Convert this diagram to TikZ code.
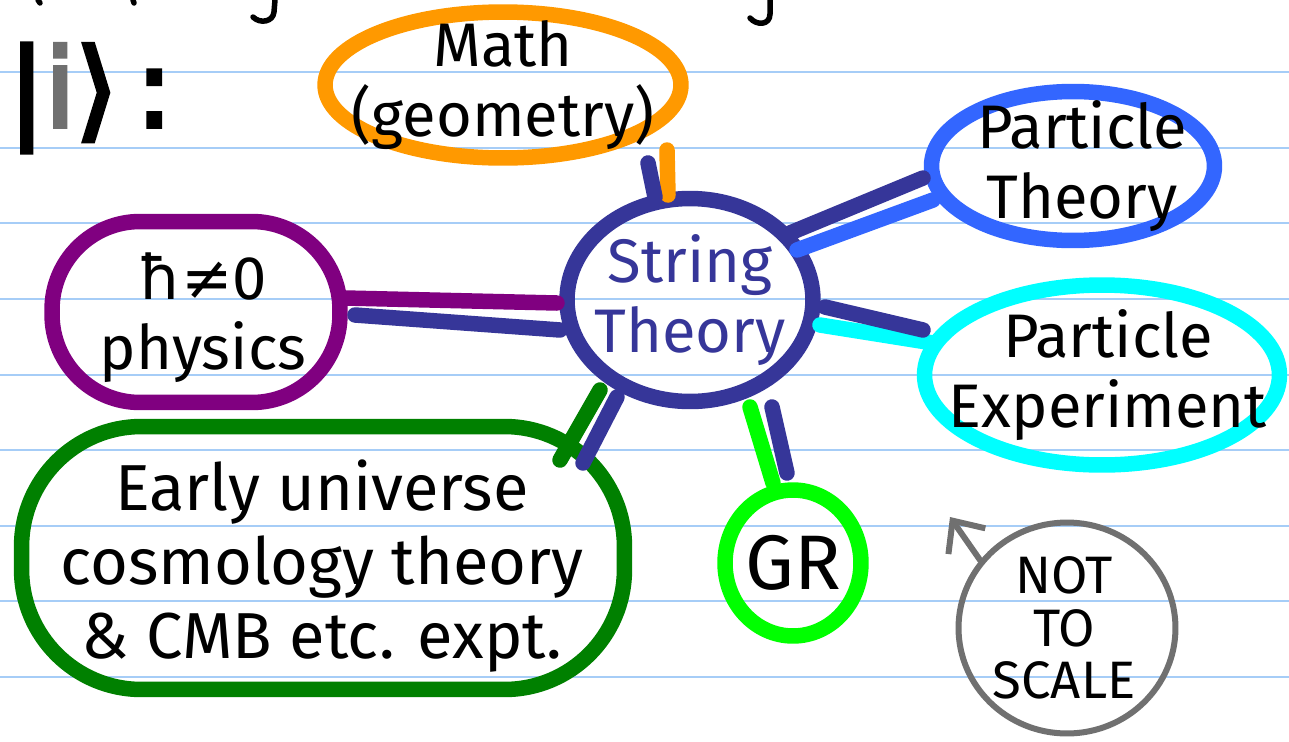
\documentclass[tikz,border=0pt]{standalone}
\usepackage{fontspec}
\setmainfont{Fira Sans}
\newfontfamily\symfont{DejaVu Sans}
\newfontfamily\ketfont[FakeBold=4]{DejaVu Sans}
\usetikzlibrary{shapes.geometric,arrows.meta}
\definecolor{myorange}{RGB}{255,153,0}
\definecolor{mynavy}{RGB}{54,54,153}
\definecolor{myblue}{RGB}{51,102,255}
\definecolor{mycyan}{RGB}{0,255,255}
\definecolor{mylime}{RGB}{0,255,0}
\definecolor{mygreen}{RGB}{0,128,0}
\definecolor{mypurple}{RGB}{128,0,128}
\definecolor{mygray}{RGB}{112,112,112}
\definecolor{myrule}{RGB}{166,205,247}

\begin{document}
\begin{tikzpicture}[x=0.02cm,y=-0.02cm,
  bubble/.style={draw, ellipse, line width=0.31cm, inner sep=0pt},
  blob/.style={draw, rectangle, rounded corners=#1, line width=0.31cm, inner sep=0pt},
  label/.style={align=center, inner sep=0pt, font=\fontsize{35}{40}\selectfont},
  link/.style={line width=0.31cm, line cap=round},
  scrap/.style={line width=0.11cm, line cap=round}]
  \useasboundingbox[fill=white] (0,0) rectangle (1289,741);

  % ruled paper
  \foreach \y in {72,147.5,223,299,374.5,450,526,601,677}
    \draw[myrule, line width=0.04cm] (0,\y) -- (1289,\y);

  % bits of the line above
  \draw[scrap] (275,0) -- (274,12) .. controls (273,22) and (260,24) .. (253,17);
  \draw[scrap] (770,0) -- (770,14) .. controls (770,25) and (757,26) .. (750,18);
  \draw[scrap] (38,0) -- (40,3);
  \draw[scrap] (133,0) -- (134,3);

  % the state
  \node[anchor=west, inner sep=0pt, font=\ketfont\fontsize{62}{62}\selectfont] (ket) at (8,98)
    {|\textcolor{mygray}{i}⟩\,:};

  % bubbles
  \node[bubble, draw=mynavy, minimum width=4.92cm, minimum height=4.06cm] (st) at (690,300) {};
  \node[label, text=mynavy] (sttxt) at (st) {String\\Theory};

  \node[bubble, draw=myorange, minimum width=7.12cm, minimum height=2.92cm] (math) at (503,85) {};
  \node[label] (mathtxt) at (math) {Math\\(geometry)};

  \node[bubble, draw=myblue, minimum width=5.66cm, minimum height=2.98cm] (pt) at (1073,166) {};
  \node[label] (pttxt) at (1082,166) {Particle\\Theory};

  \node[bubble, draw=mycyan, minimum width=7.1cm, minimum height=3.6cm] (pe) at (1102,375) {};
  \node[label] (petxt) at (1108,375) {Particle\\Experiment};

  \node[bubble, draw=mylime, minimum width=2.72cm, minimum height=2.92cm] (gr) at (793,563) {};
  \node[label, font=\fontsize{44}{44}\selectfont] (grtxt) at (gr) {GR};

  \node[blob=1.76cm, draw=mypurple, minimum width=5.76cm, minimum height=3.62cm] (hb) at (196,312) {};
  \node[label] (hbtxt) at (203,318) {{\symfont ħ≠}0\\physics};

  \node[blob=2.4cm, draw=mygreen, minimum width=12.06cm, minimum height=5.26cm] (eu) at (323,558) {};
  \node[label, font=\fontsize{37}{42}\selectfont] (eutxt) at (322,566)
    {Early universe\\cosmology theory\\\& CMB etc. expt.};

  \node[bubble, draw=mygray, line width=0.12cm, minimum width=4.34cm, minimum height=4.22cm] (nts) at (1067,628) {};
  \node[label, font=\fontsize{30}{30}\selectfont] (ntstxt) at (1064,628) {NOT\\TO\\SCALE};
  \coordinate (ntstip) at ([shift={(-117,-111)}]nts.center);
  \draw[mygray, line width=0.12cm, line cap=round, -{Straight Barb[length=0.5cm, width=0.9cm]}]
    ([shift={(-87,-68)}]nts.center) -- (ntstip);

  % links: coloured stroke, then navy stroke beside it
  \draw[link, myorange] ([shift={(-22,-105)}]st.center) -- ([shift={(164,65)}]math.center);
  \draw[link, mynavy] ([shift={(-35,-103)}]st.center) -- ([shift={(145,78)}]math.center);

  \draw[link, myblue] ([shift={(107,-50)}]st.center) -- ([shift={(-140,34)}]pt.center);
  \draw[link, mynavy] ([shift={(100,-67)}]st.center) -- ([shift={(-150,12)}]pt.center);

  \draw[link, mycyan] ([shift={(130,25)}]st.center) -- ([shift={(-169,-32)}]pe.center);
  \draw[link, mynavy] ([shift={(135,7)}]st.center) -- ([shift={(-179,-45)}]pe.center);

  \draw[link, mylime] ([shift={(60,107)}]st.center) -- ([shift={(-20,-80)}]gr.center);
  \draw[link, mynavy] ([shift={(82,107)}]st.center) -- ([shift={(-6,-90)}]gr.center);

  \draw[link, mygreen] ([shift={(-90,90)}]st.center) -- ([shift={(237,-98)}]eu.center);
  \draw[link, mynavy] ([shift={(-73,97)}]st.center) -- ([shift={(260,-95)}]eu.center);

  \draw[link, mypurple] ([shift={(-133,3)}]st.center) -- ([shift={(149,-14)}]hb.center);
  \draw[link, mynavy] ([shift={(-130,30)}]st.center) -- ([shift={(159,3)}]hb.center);
\end{tikzpicture}
\end{document}
